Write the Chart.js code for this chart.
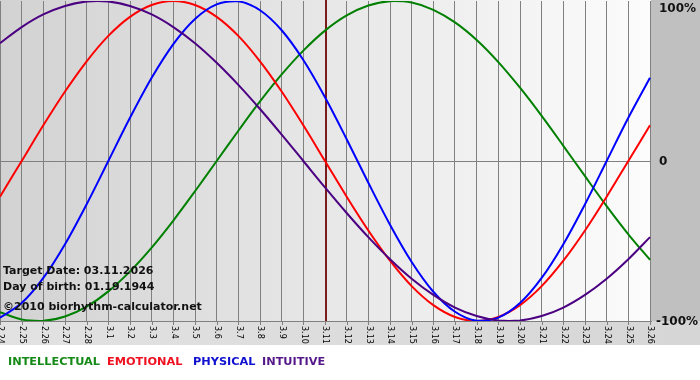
<!DOCTYPE html>
<html><head><meta charset="utf-8">
<script src="https://cdn.jsdelivr.net/npm/chart.js@4"></script>
<style>html,body{margin:0;padding:0;background:#fff;overflow:hidden}canvas{display:block}</style>
</head><body>
<canvas id="c" width="700" height="380"></canvas>
<script>
const categories = ['2.24','2.25','2.26','2.27','2.28','3.1','3.2','3.3','3.4','3.5','3.6','3.7','3.8','3.9','3.10','3.11','3.12','3.13','3.14','3.15','3.16','3.17','3.18','3.19','3.20','3.21','3.22','3.23','3.24','3.25','3.26'];
const intellectual = [-94.5,-99.0,-99.9,-97.2,-91.0,-81.5,-69.0,-54.1,-37.2,-18.9,0,18.9,37.2,54.1,69.0,81.5,91.0,97.2,99.9,99.0,94.5,86.6,75.6,61.8,45.8,28.2,9.5,-9.5,-28.2,-45.8,-61.8];
const emotional = [-22.3,0,22.3,43.4,62.3,78.2,90.1,97.5,100,97.5,90.1,78.2,62.3,43.4,22.3,0,-22.3,-43.4,-62.3,-78.2,-90.1,-97.5,-100,-97.5,-90.1,-78.2,-62.3,-43.4,-22.3,0,22.3];
const physical = [-97.9,-88.8,-73.1,-52.0,-27.0,0,27.0,52.0,73.1,88.8,97.9,99.8,94.2,81.7,63.1,39.8,13.6,-13.6,-39.8,-63.1,-81.7,-94.2,-99.8,-97.9,-88.8,-73.1,-52.0,-27.0,0,27.0,52.0];
const intuitive = [73.6,83.7,91.6,96.9,99.7,99.7,96.9,91.6,83.7,73.6,61.4,47.6,32.5,16.5,0,-16.5,-32.5,-47.6,-61.4,-73.6,-83.7,-91.6,-96.9,-99.7,-99.7,-96.9,-91.6,-83.7,-73.6,-61.4,-47.6];
const seriesLabels = ['INTELLECTUAL','EMOTIONAL','PHYSICAL','INTUITIVE'];
const yTickValues = [100, 0, -100];
const yTickLabels = ['100%', '0', '-100%'];
const targetCategory = '3.11';
const infoLines = ['Target Date: 03.11.2026', 'Day of birth: 01.19.1944'];
const copyright = '\u00A92010 biorhythm-calculator.net';

const seriesColors = ['#008000','#ff0000','#0000ff','#4b0082'];
const legendColors = ['#168a16','#f01020','#1010d0','#55188a'];
const legendX = [8, 107, 193, 262];
const FONT = '"DejaVu Sans", Verdana, sans-serif';

const deco = {
  id: 'deco',
  beforeDraw(chart) {
    const {ctx, chartArea: a, width, height} = chart;
    ctx.save();
    ctx.fillStyle = '#ffffff'; ctx.fillRect(0, 0, width, height);
    let g = ctx.createLinearGradient(0, 0, width, 0);
    g.addColorStop(0, '#e2e2e2'); g.addColorStop(1, '#d6d6d6');
    ctx.fillStyle = g; ctx.fillRect(0, a.bottom, width, 24);
    ctx.fillStyle = '#c0c0c0'; ctx.fillRect(a.right + 1, 0, width - a.right - 1, a.bottom);
    g = ctx.createLinearGradient(a.left, 0, a.right, 0);
    g.addColorStop(0, '#d2d2d2'); g.addColorStop(1, '#fcfcfc');
    ctx.fillStyle = g; ctx.fillRect(a.left, 0, a.right - a.left + 1, a.bottom + 1);
    ctx.restore();
  },
  beforeDatasetsDraw(chart) {
    const {ctx, chartArea: a} = chart;
    const x = chart.scales.x.getPixelForValue(categories.indexOf(targetCategory));
    ctx.save();
    ctx.strokeStyle = '#7b1c1c'; ctx.lineWidth = 2;
    ctx.beginPath(); ctx.moveTo(x + 1, 0); ctx.lineTo(x + 1, a.bottom); ctx.stroke();
    ctx.restore();
  },
  afterDraw(chart) {
    const {ctx, chartArea: a} = chart;
    const xs = chart.scales.x, ys = chart.scales.y;
    ctx.save();
    ctx.strokeStyle = '#808080'; ctx.lineWidth = 1;
    ctx.beginPath();
    ctx.moveTo(a.left, a.bottom + 0.5); ctx.lineTo(a.right + 2, a.bottom + 0.5);
    categories.forEach((c, i) => {
      const x = Math.round(xs.getPixelForTick(i)) + 0.5;
      ctx.moveTo(x, a.bottom); ctx.lineTo(x, a.bottom + 4);
    });
    ctx.stroke();
    ctx.save();
    ctx.beginPath(); ctx.rect(0, a.bottom + 1, chart.width, 24); ctx.clip();
    ctx.fillStyle = '#000'; ctx.font = '8px ' + FONT;
    ctx.textAlign = 'left'; ctx.textBaseline = 'middle';
    categories.forEach((c, i) => {
      const x = xs.getPixelForTick(i);
      ctx.save(); ctx.translate(x + 0.5, a.bottom + 5); ctx.rotate(Math.PI / 2);
      ctx.fillText(c, 0, 0); ctx.restore();
    });
    ctx.restore();
    ctx.fillStyle = '#111'; ctx.font = 'bold 12px ' + FONT;
    ctx.textAlign = 'left'; ctx.textBaseline = 'middle';
    yTickValues.forEach((v, i) => {
      const y = Math.max(ys.getPixelForValue(v), 8);
      const x = yTickLabels[i].startsWith('-') ? a.right + 6 : a.right + 9;
      ctx.fillText(yTickLabels[i], x, y + 1);
    });
    ctx.font = 'bold 11px ' + FONT; ctx.fillStyle = '#111';
    ctx.fillText(infoLines[0], 3, 271);
    ctx.fillText(infoLines[1], 3, 287);
    ctx.font = 'bold 11px ' + FONT;
    ctx.fillText(copyright, 3, 307);
    ctx.font = 'bold 11.3px ' + FONT;
    seriesLabels.forEach((s, i) => {
      ctx.fillStyle = legendColors[i];
      ctx.fillText(s, legendX[i], 362);
    });
    ctx.restore();
  }
};

const seriesData = [intellectual, emotional, physical, intuitive];
new Chart(document.getElementById('c'), {
  type: 'line',
  data: {
    labels: categories,
    datasets: seriesLabels.map((s, i) => ({
      label: s, data: seriesData[i], borderColor: seriesColors[i], borderWidth: 2,
      pointRadius: 0, tension: 0.33, fill: false, order: 3 - i
    }))
  },
  options: {
    responsive: false, animation: false, devicePixelRatio: 1,
    layout: {padding: {left: 0, right: 50, top: 1, bottom: 59}},
    plugins: {legend: {display: false}, tooltip: {enabled: false}},
    scales: {
      x: {offset: false, grid: {color: '#808080', lineWidth: 1, drawTicks: false}, border: {display: false}, ticks: {display: false}},
      y: {min: -100, max: 100, position: 'right', ticks: {display: false, stepSize: 100},
          grid: {drawTicks: false, color: (c) => (c.tick && c.tick.value === 0) ? '#808080' : 'rgba(0,0,0,0)'},
          border: {display: false}}
    }
  },
  plugins: [deco]
});
</script>
</body></html>
